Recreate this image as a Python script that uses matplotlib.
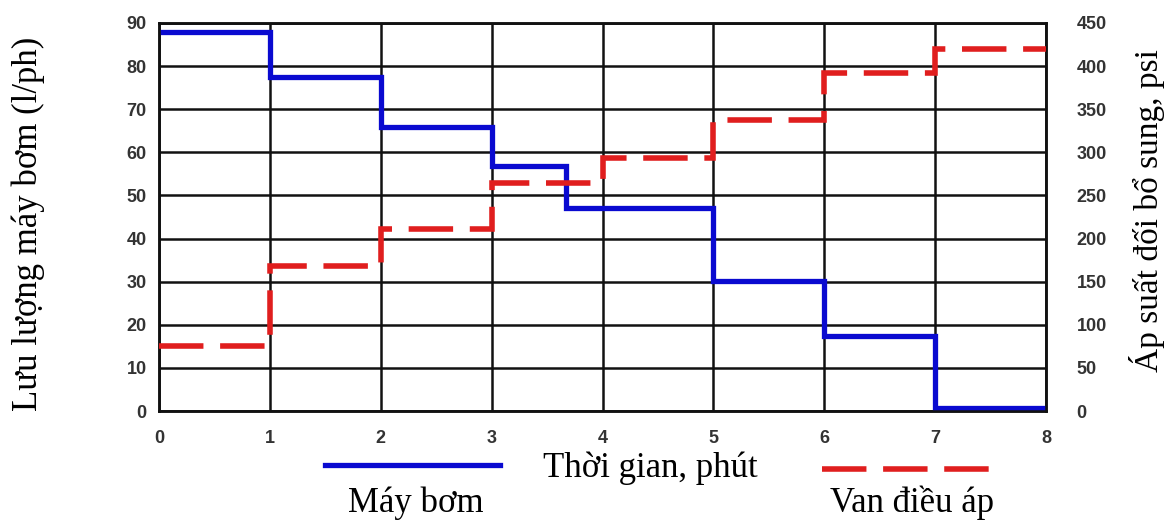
import matplotlib
matplotlib.use("Agg")
from matplotlib import pyplot as plt
from matplotlib.lines import Line2D

# values
pump_edges = [0, 1, 2, 3, 3.67, 5, 6, 7, 8]
pump_flow = [88, 77.5, 65.8, 56.8, 47.2, 30.2, 17.4, 0.8]      # l/ph

valve_edges = [0, 1, 2, 3, 4, 5, 6, 7, 8]
valve_pressure = [75, 168, 211, 264, 293, 338, 392, 420]     # psi

x_ticks = list(range(0, 9))
flow_ticks = list(range(0, 91, 10))
psi_ticks = list(range(0, 451, 50))

BLUE = "#0a0ad0"
RED = "#e01e1e"
serif = "Liberation Serif"
tick_font = {"family": "Liberation Sans", "weight": "bold", "size": 13}

W, H = 1173, 522
fig = plt.figure(figsize=(W / 100, H / 100), dpi=100)
ax = fig.add_axes([159 / W, 1 - 411 / H, (1046 - 159) / W, (411 - 23) / H])
ax2 = ax.twinx()

ax.stairs(pump_flow, pump_edges, baseline=None, color=BLUE, linewidth=3.8,
          joinstyle="miter", zorder=3)
ax2.stairs(valve_pressure, valve_edges, baseline=None, color=RED, linewidth=4,
           linestyle=(0, (8, 3)), joinstyle="miter", zorder=3)

ax.set_xlim(0, 8)
ax.set_ylim(0, 90)
ax2.set_ylim(0, 450)
ax.set_xticks(x_ticks)
ax.set_yticks(flow_ticks)
ax2.set_yticks(psi_ticks)

ax.grid(True, color="#111111", linewidth=1.8)
ax.set_axisbelow(True)
for a in (ax, ax2):
    for s in a.spines.values():
        s.set_color("#111111")
        s.set_linewidth(1.8)

ax.tick_params(axis="y", length=0, pad=9, colors="#333333")
ax.tick_params(axis="x", length=0, pad=14, colors="#333333")
ax2.tick_params(axis="y", length=0, pad=22, colors="#333333")
for lab in ax.get_xticklabels() + ax.get_yticklabels() + ax2.get_yticklabels():
    lab.set_fontproperties(tick_font)
for lab in ax2.get_yticklabels():
    lab.set_horizontalalignment("left")

# axis titles
fig.text(28 / W, 1 - 224 / H, "Lưu lượng máy bơm (l/ph)", family=serif, size=25,
         rotation=90, ha="center", va="center")
fig.text(1147 / W, 1 - 211 / H, "Áp suất đối bổ sung, psi", family=serif, size=24,
         rotation=90, ha="center", va="center")
fig.text(650 / W, 1 - 468 / H, "Thời gian, phút", family=serif, size=25,
         ha="center", va="center")

# legend drawn below the axis
fig.add_artist(Line2D([325 / W, 500 / W], [1 - 465 / H, 1 - 465 / H],
                      transform=fig.transFigure, color=BLUE, linewidth=3.8))
fig.add_artist(Line2D([822 / W, 1005 / W], [1 - 469 / H, 1 - 469 / H],
                      transform=fig.transFigure, color=RED, linewidth=4,
                      linestyle=(0, (8, 3))))
fig.text(416 / W, 1 - 503 / H, "Máy bơm", family=serif, size=25, ha="center", va="center")
fig.text(912 / W, 1 - 503 / H, "Van điều áp", family=serif, size=25, ha="center", va="center")

fig.savefig("out.png", dpi=100)
